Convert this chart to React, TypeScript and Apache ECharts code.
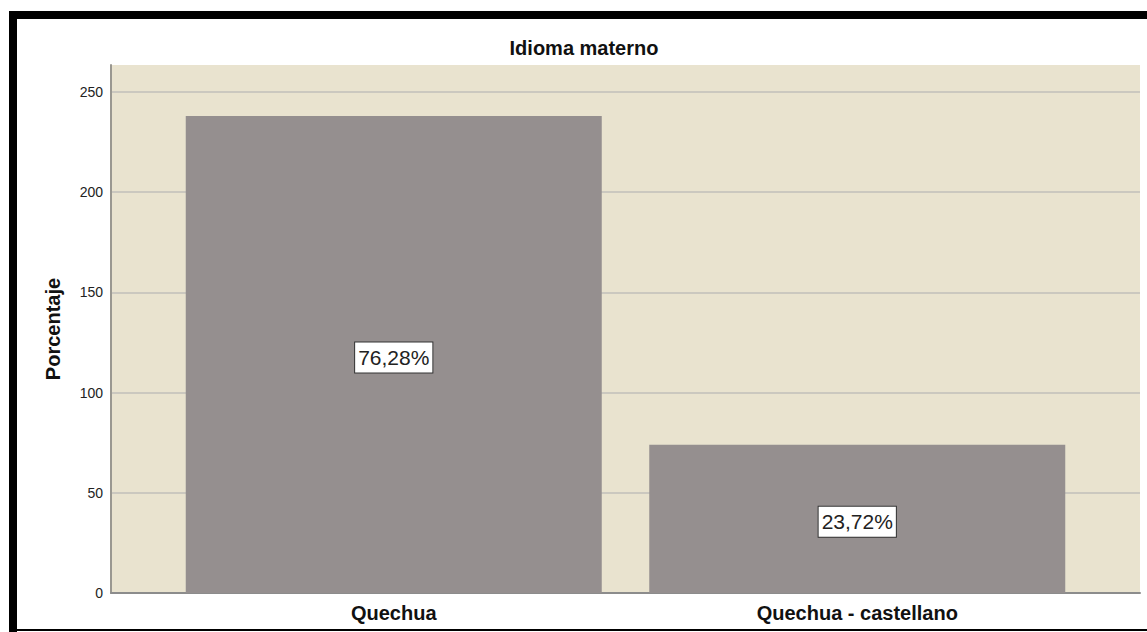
import React, { useEffect, useRef } from "react";
import * as echarts from "echarts";

const categories = ["Quechua", "Quechua - castellano"];
const counts = [238, 74];
const yMax = 263.5;
const yInterval = 50;

const FONT = "'Liberation Sans', Arial, Helvetica, sans-serif";

export default function App() {
  const ref = useRef<HTMLDivElement>(null);

  useEffect(() => {
    if (!ref.current) return;
    const chart = echarts.init(ref.current, null, { renderer: "svg" });
    const total = counts.reduce((a, b) => a + b, 0);
    const option: any = {
      animation: false,
      backgroundColor: "#ffffff",
      title: {
        text: "Idioma materno",
        left: 584,
        top: 38,
        textAlign: "center",
        padding: 0,
        textStyle: { fontFamily: FONT, fontSize: 20, fontWeight: "bold", color: "#111" },
      },
      grid: [
        { left: 111, right: 7, top: 65, bottom: 39, show: true, backgroundColor: "#e9e3cf", borderWidth: 0 },
        { left: 162, right: 58, top: 65, bottom: 39 },
      ],
      xAxis: [
        {
          gridIndex: 0,
          type: "value",
          min: 0,
          max: 1,
          axisLine: { show: true, onZero: false, lineStyle: { color: "#8c8c8c", width: 2 } },
          axisLabel: { show: false },
          axisTick: { show: false },
          splitLine: { show: false },
        },
        {
          gridIndex: 1,
          type: "category",
          data: categories,
          axisLine: { show: false },
          axisTick: { show: false },
          axisLabel: { margin: 10, fontSize: 20, fontWeight: "bold", color: "#111", fontFamily: FONT },
        },
      ],
      yAxis: [
        {
          gridIndex: 0,
          type: "value",
          min: 0,
          max: yMax,
          interval: yInterval,
          name: "Porcentaje",
          nameLocation: "middle",
          nameGap: 48,
          nameTextStyle: { fontFamily: FONT, fontSize: 20, fontWeight: "bold", color: "#111" },
          axisLine: { show: true, lineStyle: { color: "#9a9891", width: 2 } },
          axisTick: { show: false },
          axisLabel: {
            margin: 8,
            fontSize: 14,
            color: "#222",
            fontFamily: FONT,
            showMaxLabel: false,
            formatter: (v: number) => (v % yInterval === 0 ? String(v) : ""),
          },
          splitLine: { show: true, showMaxLine: false, lineStyle: { color: "#cbc8bf", width: 2 } },
        },
        { gridIndex: 1, type: "value", min: 0, max: yMax, show: false },
      ],
      series: [
        {
          type: "bar",
          xAxisIndex: 1,
          yAxisIndex: 1,
          data: counts,
          barWidth: 416,
          itemStyle: { color: "#958f8f" },
          label: {
            show: true,
            position: "inside",
            offset: [0, 3],
            formatter: (p: any) => ((p.value / total) * 100).toFixed(2).replace(".", ",") + "%",
            fontFamily: FONT,
            fontSize: 21,
            color: "#222",
            backgroundColor: "#ffffff",
            borderColor: "#333",
            borderWidth: 1,
            padding: [5, 3, 4, 3],
          },
        },
      ],
      graphic: [
        { type: "rect", shape: { x: 9, y: 11, width: 1138, height: 8 }, style: { fill: "#000" }, z: 100 },
        { type: "rect", shape: { x: 9, y: 11, width: 8, height: 621 }, style: { fill: "#000" }, z: 100 },
        { type: "rect", shape: { x: 9, y: 629, width: 1138, height: 2 }, style: { fill: "#000" }, z: 100 },
      ],
    };
    chart.setOption(option);
    return () => chart.dispose();
  }, []);

  return (
    <div
      ref={ref}
      style={{ position: "absolute", left: 0, top: 0, width: 1147, height: 632, background: "#fff" }}
    />
  );
}
